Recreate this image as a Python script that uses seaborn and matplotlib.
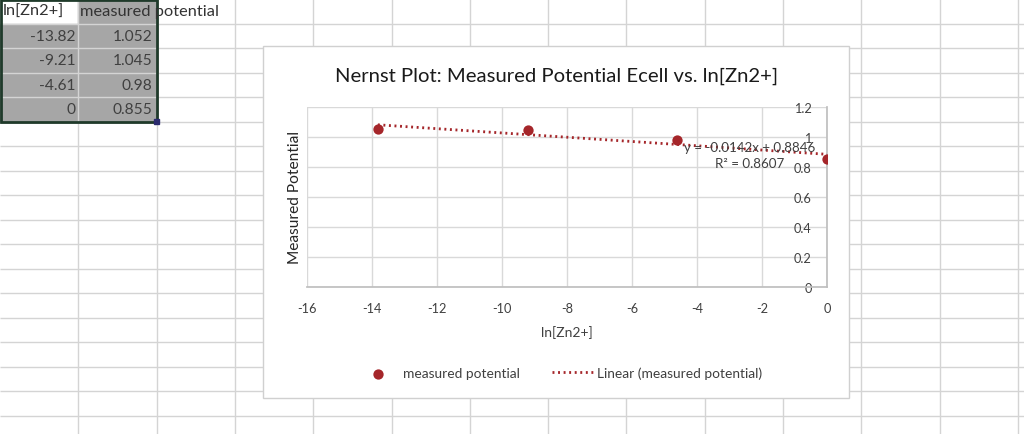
import numpy as np
import matplotlib
matplotlib.use('Agg')
import matplotlib.pyplot as plt
import seaborn as sns
from matplotlib.patches import Rectangle
from matplotlib.ticker import FuncFormatter, MultipleLocator

# data from the sheet
ln_zn = [-13.82, -9.21, -4.61, 0]
potential = [1.052, 1.045, 0.98, 0.855]
col_headers = ['ln[Zn2+]', 'measured potential']

title = 'Nernst Plot: Measured Potential Ecell vs. ln[Zn2+]'
x_label = 'ln[Zn2+]'
y_label = 'Measured Potential'

red = '#a5262a'

sns.set_theme(style='white')
plt.rcParams['font.family'] = ['Lato', 'DejaVu Sans']
plt.rcParams['axes.unicode_minus'] = False

fig = plt.figure(figsize=(10.24, 4.35), dpi=100)

# spreadsheet background
bg = fig.add_axes([0, 0, 1, 1])
bg.set_xlim(0, 1024)
bg.set_ylim(435, 0)
bg.axis('off')

col_w, row_h = 78.3, 24.5
# selection fill (A1 is the active cell, stays white)
bg.add_patch(Rectangle((col_w, 0), col_w, row_h, color='#a6a6a6', zorder=1))
bg.add_patch(Rectangle((0, row_h), 2 * col_w, 4 * row_h, color='#a6a6a6', zorder=1))
bg.vlines(np.arange(col_w, 1024, col_w), 0, 435, color='#d4d4d4', lw=1, zorder=2)
bg.hlines(np.arange(row_h, 435, row_h), 0, 1024, color='#d4d4d4', lw=1, zorder=2)
bg.add_patch(Rectangle((0.5, 0.5), 2 * col_w - 0.5, 5 * row_h - 0.5, fill=False,
                       ec='#1f3a2a', lw=2, zorder=3))
bg.add_patch(Rectangle((2 * col_w - 2.5, 5 * row_h - 2.5), 5, 5, color='#2b2b6e', zorder=4))

# cell text
bg.text(3, row_h / 2, col_headers[0], ha='left', va='center', fontsize=11.8,
        color='#333333', zorder=5)
bg.text(col_w + 2, row_h / 2, col_headers[1], ha='left', va='center', fontsize=11.8,
        color='#333333', zorder=5)
for i, (a, b) in enumerate(zip(ln_zn, potential)):
    yy = row_h * (i + 1.5)
    bg.text(col_w - 3, yy, f'{a:g}', ha='right', va='center', fontsize=11.2,
            color='#404040', zorder=5)
    bg.text(2 * col_w - 4, yy, f'{b:g}', ha='right', va='center', fontsize=11.2,
            color='#404040', zorder=5)

# chart box
bg.add_patch(Rectangle((263, 47), 586, 352, fc='white', ec='#d0d0d0', lw=1, zorder=6))
bg.text(557, 76, title, ha='center', va='center', fontsize=14.6, color='#1a1a1a', zorder=7)

# plot area
ax = fig.add_axes([307 / 1024, 147 / 435, 520 / 1024, 180 / 435])
ax.set_facecolor('none')

sns.scatterplot(x=ln_zn, y=potential, ax=ax, color=red, s=55, edgecolor=red,
                linewidth=0, label='measured potential', zorder=4)
sns.regplot(x=ln_zn, y=potential, ax=ax, scatter=False, ci=None, truncate=True,
            label='Linear (measured potential)',
            line_kws=dict(color=red, lw=2, linestyle=(0, (0.7, 1.3)), zorder=3))

slope, intercept = np.polyfit(ln_zn, potential, 1)
r2 = np.corrcoef(ln_zn, potential)[0, 1] ** 2
sign = '+' if intercept >= 0 else '-'
ax.text(-2.37, 0.88, f'y = {slope:.4f}x {sign} {abs(intercept):.4f}\nR² = {r2:.4f}',
        ha='center', va='center', fontsize=9.6, color='#404040', linespacing=1.5, zorder=5)

ax.set_xlim(-16, 0)
ax.set_ylim(0, 1.2)
ax.xaxis.set_major_locator(MultipleLocator(2))
ax.yaxis.set_major_locator(MultipleLocator(0.2))
ax.yaxis.set_major_formatter(FuncFormatter(lambda v, p: f'{round(v, 2):g}'))
ax.grid(True, color='#d9d9d9', lw=1)
ax.set_axisbelow(True)

ax.spines['left'].set_position(('data', 0))
ax.spines['left'].set_color('#bfbfbf')
ax.spines['bottom'].set_color('#bfbfbf')
ax.spines['top'].set_visible(False)
ax.spines['right'].set_visible(False)
ax.tick_params(axis='both', length=0, labelsize=9.2, labelcolor='#404040')
ax.tick_params(axis='y', pad=11)
ax.tick_params(axis='x', pad=11)

ax.set_xlabel(x_label, fontsize=10, color='#404040', labelpad=8)
ax.set_ylabel('')
fig.text(295 / 1024, 1 - 197 / 435, y_label, rotation=90, ha='center', va='center',
         fontsize=11.2, color='#262626')

handles, labels = ax.get_legend_handles_labels()
if ax.get_legend() is not None:
    ax.get_legend().remove()
fig.legend(handles, labels, loc='center', bbox_to_anchor=(560 / 1024, 1 - 374 / 435),
           ncol=2, frameon=False, fontsize=9.9, handlelength=3, handletextpad=0.3,
           columnspacing=2.3, labelcolor='#404040')

fig.savefig('out.png', dpi=100)
